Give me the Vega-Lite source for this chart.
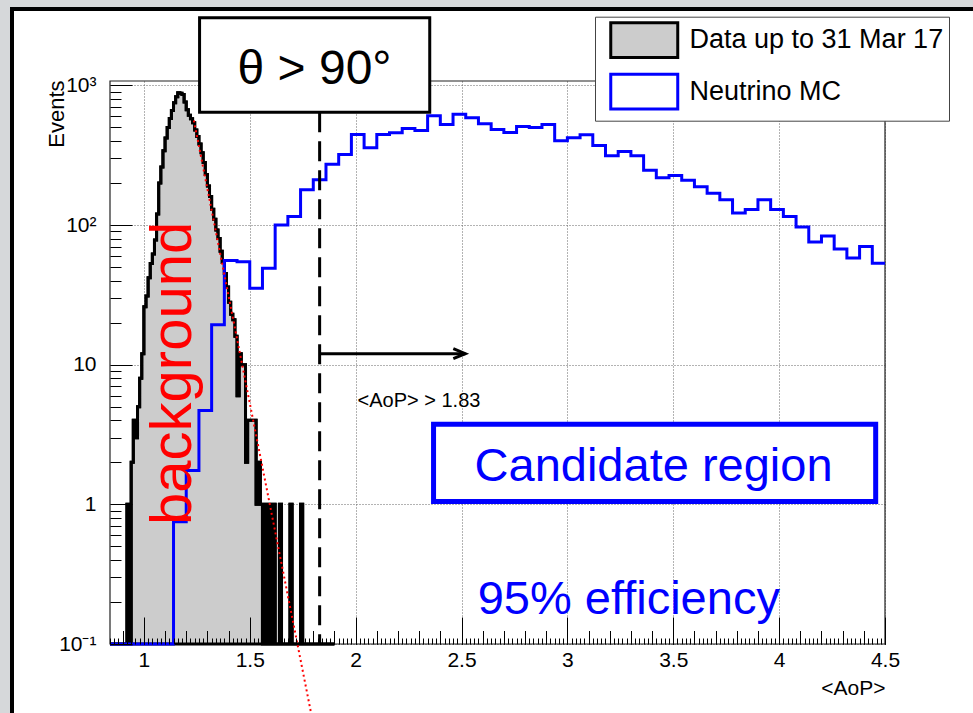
{
  "$schema": "https://vega.github.io/schema/vega-lite/v6.json",
  "width": 970,
  "height": 707,
  "autosize": "none",
  "padding": {"left": 12, "top": 9, "right": 0, "bottom": 0},
  "background": "#d6d8da",
  "config": {
    "font": "Liberation Sans",
    "view": {"fill": "#ffffff", "stroke": "#000000", "strokeWidth": 4},
    "axis": {"domain": false, "labelColor": "#000000", "titleColor": "#000000", "tickColor": "#000000", "titleFontWeight": "normal", "labelFont": "Liberation Sans", "titleFont": "Liberation Sans"}
  },
  "datasets": {
    "histData": [
      {"lo": 0.84, "hi": 0.85, "n": 0}, {"lo": 0.85, "hi": 0.86, "n": 0}, {"lo": 0.86, "hi": 0.87, "n": 0}, {"lo": 0.87, "hi": 0.88, "n": 0},
      {"lo": 0.88, "hi": 0.89, "n": 0}, {"lo": 0.89, "hi": 0.90, "n": 0}, {"lo": 0.90, "hi": 0.91, "n": 0}, {"lo": 0.91, "hi": 0.92, "n": 0},
      {"lo": 0.92, "hi": 0.93, "n": 1}, {"lo": 0.93, "hi": 0.94, "n": 0}, {"lo": 0.94, "hi": 0.95, "n": 2}, {"lo": 0.95, "hi": 0.96, "n": 4},
      {"lo": 0.96, "hi": 0.97, "n": 3}, {"lo": 0.97, "hi": 0.98, "n": 5}, {"lo": 0.98, "hi": 0.99, "n": 8}, {"lo": 0.99, "hi": 1.00, "n": 12},
      {"lo": 1.00, "hi": 1.01, "n": 26}, {"lo": 1.01, "hi": 1.02, "n": 31}, {"lo": 1.02, "hi": 1.03, "n": 42}, {"lo": 1.03, "hi": 1.04, "n": 53},
      {"lo": 1.04, "hi": 1.05, "n": 62}, {"lo": 1.05, "hi": 1.06, "n": 78}, {"lo": 1.06, "hi": 1.07, "n": 120}, {"lo": 1.07, "hi": 1.08, "n": 200},
      {"lo": 1.08, "hi": 1.09, "n": 260}, {"lo": 1.09, "hi": 1.10, "n": 340}, {"lo": 1.10, "hi": 1.11, "n": 420}, {"lo": 1.11, "hi": 1.12, "n": 500},
      {"lo": 1.12, "hi": 1.13, "n": 580}, {"lo": 1.13, "hi": 1.14, "n": 660}, {"lo": 1.14, "hi": 1.15, "n": 750}, {"lo": 1.15, "hi": 1.16, "n": 830},
      {"lo": 1.16, "hi": 1.17, "n": 885}, {"lo": 1.17, "hi": 1.18, "n": 880}, {"lo": 1.18, "hi": 1.19, "n": 860}, {"lo": 1.19, "hi": 1.20, "n": 760},
      {"lo": 1.20, "hi": 1.21, "n": 670}, {"lo": 1.21, "hi": 1.22, "n": 610}, {"lo": 1.22, "hi": 1.23, "n": 577}, {"lo": 1.23, "hi": 1.24, "n": 540},
      {"lo": 1.24, "hi": 1.25, "n": 480}, {"lo": 1.25, "hi": 1.26, "n": 430}, {"lo": 1.26, "hi": 1.27, "n": 380}, {"lo": 1.27, "hi": 1.28, "n": 330},
      {"lo": 1.28, "hi": 1.29, "n": 280}, {"lo": 1.29, "hi": 1.30, "n": 230}, {"lo": 1.30, "hi": 1.31, "n": 190}, {"lo": 1.31, "hi": 1.32, "n": 160},
      {"lo": 1.32, "hi": 1.33, "n": 130}, {"lo": 1.33, "hi": 1.34, "n": 110}, {"lo": 1.34, "hi": 1.35, "n": 92}, {"lo": 1.35, "hi": 1.36, "n": 80},
      {"lo": 1.36, "hi": 1.37, "n": 65}, {"lo": 1.37, "hi": 1.38, "n": 54}, {"lo": 1.38, "hi": 1.39, "n": 45}, {"lo": 1.39, "hi": 1.40, "n": 36},
      {"lo": 1.40, "hi": 1.41, "n": 28}, {"lo": 1.41, "hi": 1.42, "n": 23}, {"lo": 1.42, "hi": 1.43, "n": 21}, {"lo": 1.43, "hi": 1.44, "n": 16},
      {"lo": 1.44, "hi": 1.45, "n": 6}, {"lo": 1.45, "hi": 1.46, "n": 12}, {"lo": 1.46, "hi": 1.47, "n": 10}, {"lo": 1.47, "hi": 1.48, "n": 10},
      {"lo": 1.48, "hi": 1.49, "n": 2}, {"lo": 1.49, "hi": 1.50, "n": 4}, {"lo": 1.50, "hi": 1.51, "n": 4}, {"lo": 1.51, "hi": 1.52, "n": 4},
      {"lo": 1.52, "hi": 1.53, "n": 4}, {"lo": 1.53, "hi": 1.54, "n": 1}, {"lo": 1.54, "hi": 1.55, "n": 2}, {"lo": 1.55, "hi": 1.56, "n": 1},
      {"lo": 1.56, "hi": 1.57, "n": 0}, {"lo": 1.57, "hi": 1.58, "n": 1}, {"lo": 1.58, "hi": 1.59, "n": 0}, {"lo": 1.59, "hi": 1.60, "n": 1},
      {"lo": 1.60, "hi": 1.61, "n": 0}, {"lo": 1.61, "hi": 1.62, "n": 1}, {"lo": 1.62, "hi": 1.63, "n": 0}, {"lo": 1.63, "hi": 1.64, "n": 0},
      {"lo": 1.64, "hi": 1.65, "n": 1}, {"lo": 1.65, "hi": 1.66, "n": 0}, {"lo": 1.66, "hi": 1.67, "n": 0}, {"lo": 1.67, "hi": 1.68, "n": 0},
      {"lo": 1.68, "hi": 1.69, "n": 0}, {"lo": 1.69, "hi": 1.70, "n": 1}, {"lo": 1.70, "hi": 1.71, "n": 0}, {"lo": 1.71, "hi": 1.72, "n": 0},
      {"lo": 1.72, "hi": 1.73, "n": 0}, {"lo": 1.73, "hi": 1.74, "n": 0}, {"lo": 1.74, "hi": 1.75, "n": 1}, {"lo": 1.75, "hi": 1.76, "n": 0},
      {"lo": 1.76, "hi": 1.77, "n": 0}, {"lo": 1.77, "hi": 1.78, "n": 0}, {"lo": 1.78, "hi": 1.79, "n": 0}, {"lo": 1.79, "hi": 1.80, "n": 0},
      {"lo": 1.80, "hi": 1.81, "n": 0}, {"lo": 1.81, "hi": 1.82, "n": 0}, {"lo": 1.82, "hi": 1.83, "n": 0}, {"lo": 1.83, "hi": 1.84, "n": 0},
      {"lo": 1.84, "hi": 1.85, "n": 0}, {"lo": 1.85, "hi": 1.86, "n": 0}, {"lo": 1.86, "hi": 1.87, "n": 0}, {"lo": 1.87, "hi": 1.88, "n": 0},
      {"lo": 1.88, "hi": 1.89, "n": 0}, {"lo": 1.89, "hi": 1.90, "n": 0}
    ],
    "mcData": [
      {"lo": 0.84, "hi": 0.90, "n": 0}, {"lo": 0.90, "hi": 0.96, "n": 0}, {"lo": 0.96, "hi": 1.02, "n": 0}, {"lo": 1.02, "hi": 1.08, "n": 0},
      {"lo": 1.08, "hi": 1.14, "n": 0}, {"lo": 1.14, "hi": 1.20, "n": 0.75}, {"lo": 1.20, "hi": 1.26, "n": 1.75}, {"lo": 1.26, "hi": 1.32, "n": 4.7},
      {"lo": 1.32, "hi": 1.38, "n": 19.3}, {"lo": 1.38, "hi": 1.44, "n": 55.7}, {"lo": 1.44, "hi": 1.50, "n": 54.5}, {"lo": 1.50, "hi": 1.56, "n": 35.3},
      {"lo": 1.56, "hi": 1.62, "n": 49}, {"lo": 1.62, "hi": 1.68, "n": 100}, {"lo": 1.68, "hi": 1.74, "n": 115}, {"lo": 1.74, "hi": 1.80, "n": 179},
      {"lo": 1.80, "hi": 1.86, "n": 211}, {"lo": 1.86, "hi": 1.92, "n": 272}, {"lo": 1.92, "hi": 1.98, "n": 320}, {"lo": 1.98, "hi": 2.04, "n": 445},
      {"lo": 2.04, "hi": 2.10, "n": 357}, {"lo": 2.10, "hi": 2.16, "n": 445}, {"lo": 2.16, "hi": 2.22, "n": 458}, {"lo": 2.22, "hi": 2.28, "n": 491},
      {"lo": 2.28, "hi": 2.34, "n": 475}, {"lo": 2.34, "hi": 2.40, "n": 606}, {"lo": 2.40, "hi": 2.46, "n": 525}, {"lo": 2.46, "hi": 2.52, "n": 622},
      {"lo": 2.52, "hi": 2.58, "n": 586}, {"lo": 2.58, "hi": 2.64, "n": 531}, {"lo": 2.64, "hi": 2.70, "n": 483}, {"lo": 2.70, "hi": 2.76, "n": 460},
      {"lo": 2.76, "hi": 2.82, "n": 508}, {"lo": 2.82, "hi": 2.88, "n": 500}, {"lo": 2.88, "hi": 2.94, "n": 525}, {"lo": 2.94, "hi": 3.00, "n": 401},
      {"lo": 3.00, "hi": 3.06, "n": 422}, {"lo": 3.06, "hi": 3.12, "n": 443}, {"lo": 3.12, "hi": 3.18, "n": 371}, {"lo": 3.18, "hi": 3.24, "n": 313},
      {"lo": 3.24, "hi": 3.30, "n": 336}, {"lo": 3.30, "hi": 3.36, "n": 313}, {"lo": 3.36, "hi": 3.42, "n": 247}, {"lo": 3.42, "hi": 3.48, "n": 218},
      {"lo": 3.48, "hi": 3.54, "n": 226}, {"lo": 3.54, "hi": 3.60, "n": 209}, {"lo": 3.60, "hi": 3.66, "n": 188}, {"lo": 3.66, "hi": 3.72, "n": 169},
      {"lo": 3.72, "hi": 3.78, "n": 152}, {"lo": 3.78, "hi": 3.84, "n": 122}, {"lo": 3.84, "hi": 3.90, "n": 129}, {"lo": 3.90, "hi": 3.96, "n": 152},
      {"lo": 3.96, "hi": 4.02, "n": 129}, {"lo": 4.02, "hi": 4.08, "n": 115}, {"lo": 4.08, "hi": 4.14, "n": 96.7}, {"lo": 4.14, "hi": 4.20, "n": 75.5},
      {"lo": 4.20, "hi": 4.26, "n": 83.4}, {"lo": 4.26, "hi": 4.32, "n": 67.3}, {"lo": 4.32, "hi": 4.38, "n": 58}, {"lo": 4.38, "hi": 4.44, "n": 70.3},
      {"lo": 4.44, "hi": 4.50, "n": 53.3}
    ],
    "fitLine": [
      {"aop": 1.236, "events": 561},
      {"aop": 1.79, "events": 0.0318}
    ]
  },
  "resolve": {"scale": {"y": "independent"}, "axis": {"x": "independent", "y": "independent"}},
  "layer": [
    {
      "data": {"values": [{}]},
      "mark": {"type": "rect", "fill": "transparent", "stroke": "#222222", "strokeWidth": 1.2},
      "encoding": {
        "x": {"datum": 0.84, "type": "quantitative", "scale": {"domain": [0.84, 4.5], "range": [98, 873], "nice": false, "zero": false},
              "axis": {"orient": "bottom", "offset": -72, "tickCount": 183, "labels": false, "grid": false, "ticks": true, "tickSize": -6, "tickWidth": 1, "title": null, "zindex": 1}},
        "x2": {"datum": 4.5},
        "y": {"datum": 0.1, "type": "quantitative", "scale": {"type": "log", "domain": [0.1, 1075], "range": [635, 72], "nice": false}, "axis": null},
        "y2": {"datum": 1075}
      }
    },
    {
      "data": {"name": "histData"},
      "transform": [{"fold": ["lo", "hi"], "as": ["edge", "x"]}],
      "mark": {"type": "area", "opacity": 1, "interpolate": "linear", "strokeWidth": 3, "strokeJoin": "miter"},
      "encoding": {
        "x": {"field": "x", "type": "quantitative", "scale": {"domain": [0.84, 4.5], "range": [98, 873], "nice": false, "zero": false},
              "axis": {"orient": "bottom", "offset": -72, "values": [1, 1.5, 2, 2.5, 3, 3.5, 4, 4.5], "ticks": false, "grid": true, "gridColor": "#666666", "gridDash": [1, 2], "gridWidth": 1,
                       "labelExpr": "'' + datum.value", "labelFontSize": 21, "labelPadding": 5, "labelFlush": false, "labelOverlap": false,
                       "title": "<AoP>", "titleFontSize": 21, "titleX": 873, "titleY": 50, "titleAlign": "right", "titleBaseline": "alphabetic", "zindex": 0}},
        "y": {"field": "n", "type": "quantitative", "stack": null, "scale": {"type": "log", "domain": [0.1, 1075], "range": [635, 72], "nice": false, "clamp": true},
              "axis": {"orient": "left", "offset": -98, "values": [0.1, 1, 10, 100, 1000], "ticks": false, "grid": true, "gridColor": "#666666", "gridDash": [1, 2], "gridWidth": 1,
                       "labelExpr": "datum.value >= 1000 ? '10³' : datum.value >= 100 ? '10²' : datum.value >= 10 ? '10' : datum.value >= 1 ? '1' : '10⁻¹'",
                       "labelFontSize": 21, "labelPadding": 14, "labelOverlap": false,
                       "title": "Events", "titleFontSize": 22, "titleAngle": 270, "titleAlign": "right", "titleBaseline": "alphabetic", "titleX": -47, "titleY": 71, "zindex": 0}},
        "y2": {"datum": 0.1},
        "fill": {"datum": "Data up to 31 Mar 17", "type": "nominal",
                 "scale": {"domain": ["Data up to 31 Mar 17", "Neutrino MC"], "range": ["#cccccc", "#ffffff"]},
                 "legend": {"orient": "none", "legendX": 583, "legendY": 7.7, "title": null, "padding": 5, "fillColor": "#ffffff", "strokeColor": "#444444",
                            "symbolType": "M-2,-1.04H2V1.04H-2Z", "symbolSize": 1122, "symbolStrokeWidth": 3, "symbolOffset": 25.75,
                            "labelOffset": 26.75, "labelFontSize": 27, "labelColor": "#000000", "labelLimit": 400, "rowPadding": 4.5, "zindex": 2}},
        "stroke": {"datum": "Data up to 31 Mar 17", "type": "nominal",
                   "scale": {"domain": ["Data up to 31 Mar 17", "Neutrino MC"], "range": ["#000000", "#0000ff"]},
                   "legend": {"orient": "none", "legendX": 583, "legendY": 7.7, "title": null, "padding": 5, "fillColor": "#ffffff", "strokeColor": "#444444",
                              "symbolType": "M-2,-1.04H2V1.04H-2Z", "symbolSize": 1122, "symbolStrokeWidth": 3, "symbolOffset": 25.75,
                              "labelOffset": 26.75, "labelFontSize": 27, "labelColor": "#000000", "labelLimit": 400, "rowPadding": 4.5, "zindex": 2}}
      }
    },
    {
      "data": {"name": "histData"},
      "transform": [{"fold": ["lo", "hi"], "as": ["edge", "x"]}],
      "mark": {"type": "line", "color": "#000000", "strokeWidth": 3, "strokeJoin": "miter", "interpolate": "linear"},
      "encoding": {
        "x": {"field": "x", "type": "quantitative", "scale": {"domain": [0.84, 4.5], "range": [98, 873], "nice": false, "zero": false},
              "axis": {"orient": "bottom", "offset": -72, "values": [1, 1.5, 2, 2.5, 3, 3.5, 4, 4.5], "labels": false, "grid": false, "ticks": true, "tickSize": -27, "tickWidth": 1, "title": null, "zindex": 1}},
        "y": {"field": "n", "type": "quantitative", "scale": {"type": "log", "domain": [0.1, 1075], "range": [635, 72], "nice": false, "clamp": true},
              "axis": {"orient": "left", "offset": -98, "values": [0.1, 1, 10, 100, 1000], "labels": false, "grid": false, "ticks": true, "tickSize": -22, "tickWidth": 1, "title": null, "zindex": 1}}
      }
    },
    {
      "data": {"name": "mcData"},
      "transform": [{"fold": ["lo", "hi"], "as": ["edge", "x"]}],
      "mark": {"type": "line", "color": "#0000ff", "strokeWidth": 3, "strokeJoin": "miter", "interpolate": "linear"},
      "encoding": {
        "x": {"field": "x", "type": "quantitative", "scale": {"domain": [0.84, 4.5], "range": [98, 873], "nice": false, "zero": false},
              "axis": {"orient": "bottom", "offset": -72, "tickCount": 37, "labels": false, "grid": false, "ticks": true, "tickSize": -13.5, "tickWidth": 1, "title": null, "zindex": 1}},
        "y": {"field": "n", "type": "quantitative", "scale": {"type": "log", "domain": [0.1, 1075], "range": [635, 72], "nice": false, "clamp": true},
              "axis": {"orient": "left", "offset": -98, "values": [0.2, 0.3, 0.4, 0.5, 0.6, 0.7, 0.8, 0.9, 2, 3, 4, 5, 6, 7, 8, 9, 20, 30, 40, 50, 60, 70, 80, 90, 200, 300, 400, 500, 600, 700, 800, 900],
                       "labels": false, "grid": false, "ticks": true, "tickSize": -11, "tickWidth": 1, "title": null, "zindex": 1}}
      }
    },
    {
      "data": {"name": "fitLine"},
      "mark": {"type": "line", "color": "#ff0000", "strokeWidth": 2, "strokeDash": [2, 3]},
      "encoding": {
        "x": {"field": "aop", "type": "quantitative", "scale": {"domain": [0.84, 4.5], "range": [98, 873], "nice": false, "zero": false}, "axis": null},
        "y": {"field": "events", "type": "quantitative", "scale": {"type": "log", "domain": [0.1, 1075], "range": [635, 72], "nice": false}, "axis": null}
      }
    },
    {
      "data": {"values": [{}]},
      "mark": {"type": "rule", "color": "#000000", "strokeWidth": 3, "strokeDash": [20, 9]},
      "encoding": {
        "x": {"datum": 1.83, "type": "quantitative", "scale": {"domain": [0.84, 4.5], "range": [98, 873], "nice": false, "zero": false}, "axis": null},
        "y": {"datum": 643, "type": "quantitative", "scale": {"type": "log", "domain": [0.1, 1075], "range": [635, 72], "nice": false}, "axis": null},
        "y2": {"datum": 0.1}
      }
    },
    {
      "data": {"values": [{}]},
      "mark": {"type": "rule", "color": "#000000", "strokeWidth": 3},
      "encoding": {
        "x": {"datum": 1.83, "type": "quantitative", "scale": {"domain": [0.84, 4.5], "range": [98, 873], "nice": false, "zero": false}, "axis": null},
        "x2": {"datum": 2.518},
        "y": {"datum": 12, "type": "quantitative", "scale": {"type": "log", "domain": [0.1, 1075], "range": [635, 72], "nice": false}, "axis": null}
      }
    },
    {
      "data": {"values": [{}]},
      "mark": {"type": "point", "shape": "M-1,-0.42L0,0L-1,0.42", "size": 576, "filled": false, "stroke": "#000000", "strokeWidth": 3, "opacity": 1},
      "encoding": {
        "x": {"datum": 2.518, "type": "quantitative", "scale": {"domain": [0.84, 4.5], "range": [98, 873], "nice": false, "zero": false}, "axis": null},
        "y": {"datum": 12, "type": "quantitative", "scale": {"type": "log", "domain": [0.1, 1075], "range": [635, 72], "nice": false}, "axis": null}
      }
    },
    {
      "data": {"values": [{}]},
      "mark": {"type": "rect", "fill": "#ffffff", "stroke": "#000000", "strokeWidth": 3},
      "encoding": {
        "x": {"datum": 1.263, "type": "quantitative", "scale": {"domain": [0.84, 4.5], "range": [98, 873], "nice": false, "zero": false}, "axis": null},
        "x2": {"datum": 2.35},
        "y": {"datum": 643, "type": "quantitative", "scale": {"type": "log", "domain": [0.1, 1075], "range": [635, 72], "nice": false}, "axis": null},
        "y2": {"datum": 3048}
      }
    },
    {
      "data": {"values": [{}]},
      "mark": {"type": "text", "text": "θ > 90°", "fontSize": 48, "align": "center", "baseline": "alphabetic", "fill": "#000000"},
      "encoding": {
        "x": {"datum": 1.806, "type": "quantitative", "scale": {"domain": [0.84, 4.5], "range": [98, 873], "nice": false, "zero": false}, "axis": null},
        "y": {"datum": 1015, "type": "quantitative", "scale": {"type": "log", "domain": [0.1, 1075], "range": [635, 72], "nice": false}, "axis": null}
      }
    },
    {
      "data": {"values": [{}]},
      "mark": {"type": "text", "text": "<AoP> > 1.83", "fontSize": 20, "align": "left", "baseline": "alphabetic", "fill": "#000000"},
      "encoding": {
        "x": {"datum": 2.009, "type": "quantitative", "scale": {"domain": [0.84, 4.5], "range": [98, 873], "nice": false, "zero": false}, "axis": null},
        "y": {"datum": 4.99, "type": "quantitative", "scale": {"type": "log", "domain": [0.1, 1075], "range": [635, 72], "nice": false}, "axis": null}
      }
    },
    {
      "data": {"values": [{}]},
      "mark": {"type": "rect", "fill": "#ffffff", "stroke": "#0000ff", "strokeWidth": 5},
      "encoding": {
        "x": {"datum": 2.368, "type": "quantitative", "scale": {"domain": [0.84, 4.5], "range": [98, 873], "nice": false, "zero": false}, "axis": null},
        "x2": {"datum": 4.456},
        "y": {"datum": 1.05, "type": "quantitative", "scale": {"type": "log", "domain": [0.1, 1075], "range": [635, 72], "nice": false}, "axis": null},
        "y2": {"datum": 3.74}
      }
    },
    {
      "data": {"values": [{}]},
      "mark": {"type": "text", "text": "Candidate region", "fontSize": 47, "align": "center", "baseline": "alphabetic", "fill": "#0000ff"},
      "encoding": {
        "x": {"datum": 3.407, "type": "quantitative", "scale": {"domain": [0.84, 4.5], "range": [98, 873], "nice": false, "zero": false}, "axis": null},
        "y": {"datum": 1.461, "type": "quantitative", "scale": {"type": "log", "domain": [0.1, 1075], "range": [635, 72], "nice": false}, "axis": null}
      }
    },
    {
      "data": {"values": [{}]},
      "mark": {"type": "text", "text": "95% efficiency", "fontSize": 47, "align": "center", "baseline": "alphabetic", "fill": "#0000ff"},
      "encoding": {
        "x": {"datum": 3.29, "type": "quantitative", "scale": {"domain": [0.84, 4.5], "range": [98, 873], "nice": false, "zero": false}, "axis": null},
        "y": {"datum": 0.1632, "type": "quantitative", "scale": {"type": "log", "domain": [0.1, 1075], "range": [635, 72], "nice": false}, "axis": null}
      }
    },
    {
      "data": {"values": [{}]},
      "mark": {"type": "text", "text": "background", "fontSize": 58, "angle": 270, "align": "center", "baseline": "middle", "fill": "#ff0000"},
      "encoding": {
        "x": {"datum": 1.14, "type": "quantitative", "scale": {"domain": [0.84, 4.5], "range": [98, 873], "nice": false, "zero": false}, "axis": null},
        "y": {"datum": 8.665, "type": "quantitative", "scale": {"type": "log", "domain": [0.1, 1075], "range": [635, 72], "nice": false}, "axis": null}
      }
    }
  ]
}
